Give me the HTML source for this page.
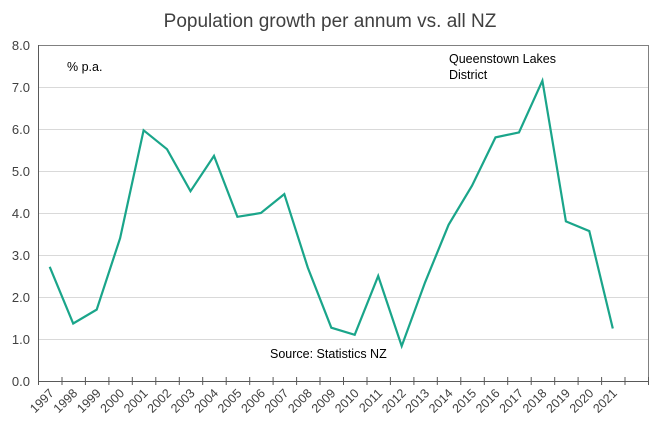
<!DOCTYPE html>
<html><head><meta charset="utf-8"><style>body{margin:0;background:#fff}svg{display:block}</style></head><body>
<svg width="659" height="430" xmlns="http://www.w3.org/2000/svg" font-family="Liberation Sans, sans-serif">
<text x="330" y="27" text-anchor="middle" font-size="19" fill="#404040">Population growth per annum vs. all NZ</text>
<g stroke="#d9d9d9" stroke-width="1">
<line x1="38" x2="649" y1="339.5" y2="339.5"/><line x1="38" x2="649" y1="297.5" y2="297.5"/><line x1="38" x2="649" y1="255.5" y2="255.5"/><line x1="38" x2="649" y1="213.5" y2="213.5"/><line x1="38" x2="649" y1="171.5" y2="171.5"/><line x1="38" x2="649" y1="129.5" y2="129.5"/><line x1="38" x2="649" y1="87.5" y2="87.5"/>
</g>
<rect x="38.5" y="45.5" width="610" height="336" fill="none" stroke="#808080"/>
<line x1="38" x2="649" y1="381.5" y2="381.5" stroke="#595959"/>
<line x1="38.5" x2="38.5" y1="45" y2="381" stroke="#595959"/>
<g stroke="#595959" id="ticks"></g>
<g font-size="13" fill="#404040" text-anchor="end">
<text x="30" y="386">0.0</text><text x="30" y="344">1.0</text><text x="30" y="302">2.0</text><text x="30" y="260">3.0</text><text x="30" y="218">4.0</text><text x="30" y="176">5.0</text><text x="30" y="134">6.0</text><text x="30" y="92">7.0</text><text x="30" y="50">8.0</text>
</g>
<text x="67" y="71" font-size="12.5" fill="#000">% p.a.</text>
<text x="449" y="63" font-size="12.5" fill="#000">Queenstown Lakes</text>
<text x="449" y="79" font-size="12.5" fill="#000">District</text>
<text x="270" y="358" font-size="12.5" fill="#000">Source: Statistics NZ</text>
<polyline id="ln" fill="none" stroke="#1aa58a" stroke-width="2.2" stroke-linejoin="miter"/>
<g id="lab" font-size="12.5" fill="#404040" text-anchor="end"></g>
</svg>
<script>
var v=[2.72,1.37,1.7,3.4,5.97,5.52,4.52,5.36,3.91,4.0,4.45,2.7,1.27,1.1,2.5,0.83,2.35,3.72,4.65,5.8,5.92,7.15,3.8,3.57,1.25];
var s=610/26,p=[],t='',l='';
for(var i=0;i<v.length;i++){var x=38+s*(i+0.5);p.push(x.toFixed(1)+','+(381-42*v[i]).toFixed(1));
l+='<text transform="translate('+(x+5).toFixed(1)+',394) rotate(-45)">'+(1997+i)+'</text>';}
for(var i=0;i<=26;i++){var x=38.5+s*i;t+='<line x1="'+x.toFixed(1)+'" x2="'+x.toFixed(1)+'" y1="377" y2="385"/>';}
document.getElementById('ln').setAttribute('points',p.join(' '));
document.getElementById('ticks').innerHTML=t;document.getElementById('lab').innerHTML=l;
</script>
</body></html>
